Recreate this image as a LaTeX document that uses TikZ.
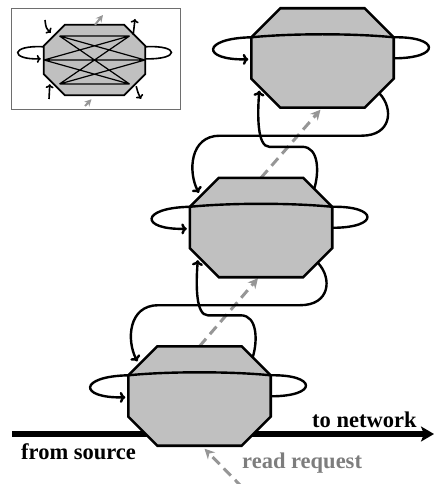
\documentclass[tikz,border=0pt]{standalone}
\usepackage{fontspec}
\setmainfont{Liberation Serif}
\usetikzlibrary{arrows.meta,calc}
\definecolor{octgray}{RGB}{192,192,192}
\definecolor{dashgray}{RGB}{150,150,150}
\definecolor{txtgray}{RGB}{125,125,125}
\definecolor{boxgray}{RGB}{110,110,110}
\tikzset{
 octbox/.style={rectangle, inner sep=0pt, minimum width=142pt, minimum height=99pt},
 smallbox/.style={rectangle, inner sep=0pt, minimum width=101pt, minimum height=70pt},
 octline/.style={line width=2.6pt, fill=octgray, line join=miter},
 soctline/.style={line width=1.8pt, fill=octgray, line join=miter},
 conn/.style={line width=2.4pt, -{To[length=5.5pt,width=11pt]}},
 sconn/.style={line width=1.6pt, -{To[length=4pt,width=8pt]}},
 splain/.style={line width=1.6pt},
 inner/.style={line width=1.2pt},
 req/.style={line width=3pt, dashgray, dash pattern=on 10pt off 6pt, -{Stealth[length=10pt,width=10pt]}},
 sreq/.style={line width=2pt, dashgray, -{Stealth[length=7pt,width=7pt]}},
 mainarrow/.style={line width=5.5pt, -{Stealth[length=13pt,width=15pt,inset=3pt]}},
 lbl/.style={font=\fontsize{22.5}{24}\selectfont\bfseries, inner sep=0pt, anchor=base west},
}
\newcommand\octdraw[3]{% style, name, chamfer
 \draw[#1] ($(#2.north west)+(#3,0)$) -- ($(#2.north east)+(-#3,0)$) -- ($(#2.north east)+(0,#3)$) -- ($(#2.south east)+(0,-#3)$) -- ($(#2.south east)+(-#3,0)$) -- ($(#2.south west)+(#3,0)$) -- ($(#2.south west)+(0,-#3)$) -- ($(#2.north west)+(0,#3)$) -- cycle;}
\newcommand\octring[1]{%
 \draw[conn] ($(#1.north east)+(0,50)$) .. controls ($(#1.north east)+(48,50)$) and ($(#1.north east)+(46,28)$) .. ($(#1.north east)+(0,29)$) .. controls ($(#1.north east)+(-40,25)$) and ($(#1.north west)+(40,25)$) .. ($(#1.north west)+(0,29)$) .. controls ($(#1.north west)+(-50,30)$) and ($(#1.north west)+(-50,52)$) .. ($(#1.north west)+(-3,51)$);}
\newcommand\connA[2]{% upper, lower
 \draw[conn] ($(#1.south east)+(-14,-14)$) .. controls ($(#1.south east)+(0,1)$) and ($(#1.south east)+(-2,28)$) .. ($(#1.south east)+(-32,28)$) -- ($(#2.west |- #1.south)+(30,28)$) .. controls ($(#2.west |- #1.south)+(0,28)$) and ($(#2.north west)+(-2,-6)$) .. ($(#2.north west)+(9,15)$);}
\newcommand\connB[2]{% lower, upper
 \draw[conn] ($(#1.north east)+(-18,11)$) .. controls ($(#1.north east)+(-13,-5)$) and ($(#1.north east)+(-13,-31)$) .. ($(#1.north east)+(-30,-31)$) -- ($(#2.west |- #1.north)+(18,-31)$) .. controls ($(#2.west |- #1.north)+(6,-31)$) and ($(#2.south west)+(6,8)$) .. ($(#2.south west)+(8,-17)$);}
\begin{document}
\begin{tikzpicture}[x=1pt,y=-1pt]
\useasboundingbox (0,0) rectangle (434,484);
% nodes (invisible frames of the octagons)
\node[octbox] (B) at (199.5,396) {};
\node[octbox] (M) at (261,227.5) {};
\node[octbox] (T) at (322.5,58) {};
% main flow
\coordinate (src) at (12,434);
\coordinate (net) at (434,434);
\draw[mainarrow] (src) -- (net);
% read request chain
\coordinate (rq) at (242,487);
\draw[req] (rq) -- ($(B.south)+(5,3)$);
\draw[req] (B.north) -- ($(M.south)+(-3,1)$);
\draw[req] (M.north) -- ($(T.south)+(-2,2)$);
% connectors between stages
\connA{M}{B}
\connB{B}{M}
\connA{T}{M}
\connB{M}{T}
% octagons
\octdraw{octline}{B}{29}
\octdraw{octline}{M}{29}
\octdraw{octline}{T}{29}
\octring{B}
\octring{M}
\octring{T}
% labels
\node[lbl] (tn) at (312,427) {to network};
\node[lbl] (fs) at (21,459) {from source};
\node[lbl, text=txtgray] (rr) at (242,468) {read request};
% inset
\node[draw=boxgray, line width=1pt, minimum width=169pt, minimum height=101pt, inner sep=0pt] (inset) at (95.5,59.5) {};
\node[smallbox] (I) at (94.5,60) {};
\octdraw{soctline}{I}{21}
\coordinate (TL) at ($(I.center)+(-35,-24)$);
\coordinate (TR) at ($(I.center)+(35,-24)$);
\coordinate (ML) at ($(I.center)+(-50.5,0)$);
\coordinate (MR) at ($(I.center)+(50.5,0)$);
\coordinate (BL) at ($(I.center)+(-35,24)$);
\coordinate (BR) at ($(I.center)+(35,24)$);
\draw[inner] (TL) -- (TR) (ML) -- (MR) (BL) -- (BR)
  (TL) -- (MR) (TL) -- (BR) (TR) -- (ML) (TR) -- (BL) (ML) -- (BR) (BL) -- (MR);
\draw[sconn] ($(I.north west)+(0,22)$) .. controls ($(I.north west)+(-34,20)$) and ($(I.north west)+(-34,35)$) .. ($(I.north west)+(-3,34)$);
\draw[splain] ($(I.north east)+(0,22)$) .. controls ($(I.north east)+(35,20)$) and ($(I.north east)+(35,35)$) .. ($(I.north east)+(0,34)$);
\coordinate (a1) at (45,20);
\coordinate (a2) at (49,99);
\coordinate (a3) at (135,19);
\coordinate (a4) at (141,99);
\coordinate (g1) at (103,15);
\coordinate (g2) at (85,106);
\draw[sconn] (a1) .. controls (46,28) .. ($(I.north west)+(7,8)$);
\draw[sconn] (a2) -- ($(I.south west)+(6,-11)$);
\draw[sconn] ($(I.north east)+(-12,10)$) .. controls (134,28) .. (a3);
\draw[sconn] ($(I.south east)+(-9,-9)$) .. controls (138,93) .. (a4);
\draw[sreq] ($(I.north)+(0.5,0)$) -- (g1);
\draw[sreq] (g2) -- ($(I.south)+(-3,4)$);
\end{tikzpicture}
\end{document}
